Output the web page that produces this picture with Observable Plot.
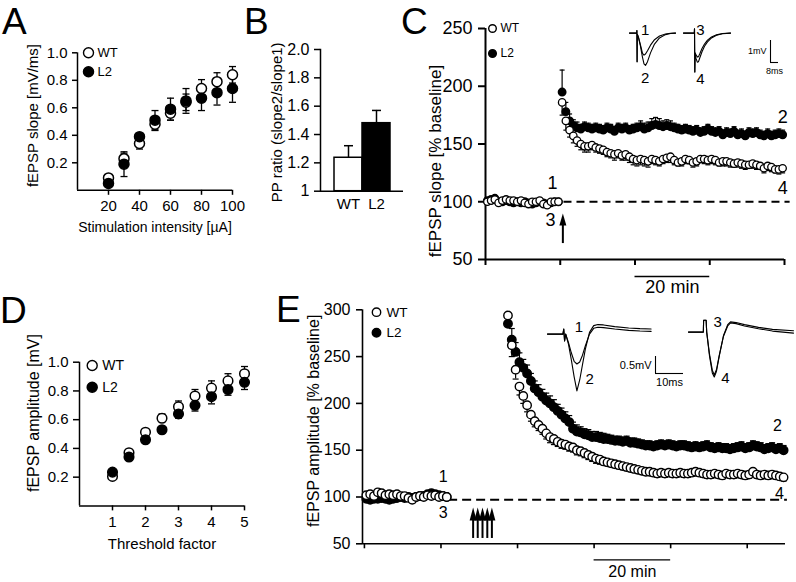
<!DOCTYPE html>
<html>
<head>
<meta charset="utf-8">
<script src="https://cdn.jsdelivr.net/npm/d3@7"></script>
<script src="https://cdn.jsdelivr.net/npm/@observablehq/plot@0.6"></script>
<style>
html, body { margin: 0; padding: 0; background: #fff; }
#fig { position: relative; width: 796px; height: 582px; overflow: hidden; background: #fff; font-family: "Liberation Sans", Arial, sans-serif; }
.letter { position: absolute; font-size: 37px; line-height: 37px; color: #000; }
</style>
</head>
<body>
<div id="fig"></div>
<script>
// ---------------- Panel A: input/output ----------------
const intensity = [20, 30, 40, 50, 60, 70, 80, 90, 100];
const A_WT      = [0.09, 0.23, 0.34, 0.48, 0.56, 0.64, 0.74, 0.79, 0.84];
const A_WT_err  = [0.02, 0.04, 0.04, 0.045, 0.05, 0.06, 0.065, 0.065, 0.06];
const A_L2      = [0.05, 0.19, 0.39, 0.51, 0.59, 0.65, 0.67, 0.71, 0.74];
const A_L2_err  = [0.02, 0.09, 0.02, 0.07, 0.08, 0.09, 0.09, 0.09, 0.10];
const A_ticksX  = [20, 40, 60, 80, 100];
const A_ticksY  = [0.2, 0.4, 0.6, 0.8, 1.0];

// ---------------- Panel B: paired-pulse ratio ----------------
const ppGroups = ["WT", "L2"];
const ppRatio  = [1.236, 1.48];
const ppErr    = [0.085, 0.09];
const B_ticksY = [1, 1.2, 1.4, 1.6, 1.8, 2.0];

// ---------------- Panel C: LTP (slope) ----------------
const tC_base = [-19.5,-18.5,-17.5,-16.5,-15.5,-14.5,-13.5,-12.5,-11.5,-10.5,-9.5,-8.5,-7.5,-6.5,-5.5,-4.5,-3.5,-2.5,-1.5,-0.5];
const C_WT_base     = [100,101,102,99,101,102,101,101,100,101,99,98,100,100,101,98,97,100,100,100];
const C_WT_base_err = [2,1,2,1,1,2,1,1,2,1,1,2,1,1,1,2,1,1,1,1];
const C_L2_base     = [101,102,103,100,100,101,100,99,100,99,100,99,98,99,100,99,98,99,100,100];
const C_L2_base_err = [1,2,1,1,2,1,1,2,1,1,1,1,2,1,1,1,1,2,1,1];
const tC_post = [0.5,1.5,2.5,3.5,4.5,5.5,6.5,7.5,8.5,9.5,10.5,11.5,12.5,13.5,14.5,15.5,16.5,17.5,18.5,19.5,20.5,21.5,22.5,23.5,24.5,25.5,26.5,27.5,28.5,29.5,30.5,31.5,32.5,33.5,34.5,35.5,36.5,37.5,38.5,39.5,40.5,41.5,42.5,43.5,44.5,45.5,46.5,47.5,48.5,49.5,50.5,51.5,52.5,53.5,54.5,55.5,56.5,57.5,58.5,59.5];
const C_WT_post = [186,170,162,157,153,150,148,148,149,147,
                   146,145,143,142,141,142,140,141,139,137,
                   136,137,136,135,137,136,135,137,138,139,
                   136,134,135,137,136,134,135,137,137,136,
                   137,136,134,135,135,134,133,134,133,132,
                   132,133,132,131,129,131,130,128,128,129];
const C_WT_post_err = [11,8,6,6,5,5,5,5,4,4,
                       4,4,4,4,5,4,4,5,5,5,
                       5,5,5,5,4,4,4,4,4,5,
                       4,3,4,4,3,4,4,3,4,4,
                       4,4,3,4,4,4,3,4,4,4,
                       3,4,4,3,4,4,4,3,4,4];
const C_L2_post = [195,178,170,166,164,163,165,164,163,164,
                   163,162,164,163,161,164,163,164,162,163,
                   164,165,163,164,166,167,166,165,166,165,
                   164,163,162,163,162,161,162,160,161,163,
                   161,160,161,158,160,159,161,158,159,157,
                   160,159,160,158,157,159,157,158,159,158];
const C_L2_post_err = [19,8,6,5,5,4,4,4,4,4,
                       4,4,4,4,4,4,4,4,4,4,
                       4,5,5,5,6,6,6,5,5,5,
                       4,4,4,4,4,4,4,4,4,4,
                       4,4,4,4,4,4,4,4,4,4,
                       4,4,4,4,4,4,4,4,4,4];
const C_ticksX = [-20, 0, 20, 40, 60];
const C_ticksY = [50, 100, 150, 200, 250];
const C_tetanus = [0.7];
const C_scaleBar = [20, 40];
const C_marks = ["1", "3", "2", "4"];
const C_markT = [-2.1, -2.6, 59.5, 59.5];
const C_markV = [116, 84, 173, 111.5];

// ---------------- Panel D: amplitude vs threshold ----------------
const threshold = [1, 1.5, 2, 2.5, 3, 3.5, 4, 4.5, 5];
const D_WT     = [0.205, 0.37, 0.513, 0.61, 0.69, 0.765, 0.82, 0.87, 0.92];
const D_WT_err = [0.015, 0.02, 0.025, 0.03, 0.04, 0.045, 0.05, 0.05, 0.05];
const D_L2     = [0.235, 0.34, 0.46, 0.53, 0.64, 0.70, 0.76, 0.81, 0.86];
const D_L2_err = [0.015, 0.02, 0.02, 0.02, 0.03, 0.04, 0.05, 0.04, 0.05];
const D_ticksX = [1, 2, 3, 4, 5];
const D_ticksY = [0.2, 0.4, 0.6, 0.8, 1.0];

// ---------------- Panel E: LTP (amplitude) ----------------
const tE_base = [0.5,1.5,2.5,3.5,4.5,5.5,6.5,7.5,8.5,9.5,10.5,11.5,12.5,13.5,14.5,15.5,16.5,17.5,18.5,19.5,20.5,21.5];
const E_WT_base = [102,103,101,105,104,102,103,102,103,101,101,99,97,100,101,100,102,101,102,100,101,100];
const E_L2_base = [98,97,98,98,99,98,97,98,99,100,99,100,99,100,101,101,103,104,103,102,101,100];
const E_base_err = [2,2,3,2,2,2,3,2,2,2,2,2,3,2,2,2,2,2,2,2,2,2];
const tE_post = [37.5,38.5,39.5,40.5,41.5,42.5,43.5,44.5,45.5,46.5,47.5,48.5,49.5,50.5,51.5,52.5,53.5,54.5,55.5,56.5,57.5,58.5,59.5,60.5,61.5,62.5,63.5,64.5,65.5,66.5,67.5,68.5,69.5,70.5,71.5,72.5,73.5,74.5,75.5,76.5,77.5,78.5,79.5,80.5,81.5,82.5,83.5,84.5,85.5,86.5,87.5,88.5,89.5,90.5,91.5,92.5,93.5,94.5,95.5,96.5,97.5,98.5,99.5,100.5,101.5,102.5,103.5,104.5,105.5,106.5,107.5,108.5,109.5];
const E_WT_post = [294,262,236,218,208,198,188,181,177,173,
                   168,164,162,159,157,156,154,153,150,149,
                   147,145,143,141,140,138,137,136,135,134,
                   133,132,131,130,129,128,127,127,126,125,
                   126,125,126,125,125,126,125,125,126,127,
                   126,125,124,124,125,124,123,125,124,124,
                   125,124,123,124,127,124,123,124,123,124,
                   123,122,121];
const E_WT_post_err = [10,12,10,9,8,7,7,6,6,6,
                       6,6,6,5,5,5,5,5,5,5,
                       5,5,5,5,5,4,4,4,4,4,
                       4,4,4,4,4,4,4,4,4,4,
                       4,4,4,4,4,4,4,4,4,4,
                       4,4,4,4,4,4,4,4,4,4,
                       4,4,4,4,4,4,4,4,4,4,
                       4,4,4];
const E_L2_post = [285,268,255,244,238,232,224,216,212,207,
                   203,200,196,192,188,184,180,173,170,169,
                   167,166,164,164,163,162,162,161,160,160,
                   159,160,158,158,157,156,155,155,154,155,
                   156,155,156,155,154,155,155,154,153,154,
                   153,154,155,153,152,153,152,152,151,152,
                   153,154,152,153,155,154,153,151,152,153,
                   151,152,150];
const E_L2_post_err = [10,12,10,10,9,9,8,8,8,8,
                       8,8,8,7,7,7,7,7,7,6,
                       6,6,6,6,6,6,5,5,5,5,
                       5,5,5,5,5,5,5,5,5,5,
                       5,5,5,5,5,5,5,5,5,5,
                       5,5,5,5,5,5,5,5,5,5,
                       5,5,5,5,5,5,5,5,5,5,
                       5,5,5];
const E_ticksX = [0, 20, 40, 60, 80, 100];
const E_ticksY = [50, 100, 150, 200, 250, 300];
const E_tetanus = [28.4, 29.6, 30.85, 32.1, 33.3];
const E_scaleBar = [60, 80];
const E_marks = ["1", "3", "2", "4"];
const E_markT = [20.6, 20.6, 107.9, 108.4];
const E_markV = [121, 82.7, 176.4, 103.7];

// ---------------- Inset traces (ms, mV) ----------------
const trC12_t = [0, 7.2, 7.4, 7.6, 7.8, 9, 11, 13, 14.5, 16, 18, 21, 25, 30, 36, 41, 46];
const trC1_v  = [0, 0, 0.12, -1.3, -0.05, -0.2, -0.55, -0.92, -1.0, -0.95, -0.8, -0.55, -0.3, -0.13, -0.04, -0.01, 0];
const trC2_v  = [0, 0, 0.12, -1.3, -0.05, -0.2, -0.6, -1.1, -1.4, -1.47, -1.3, -0.9, -0.5, -0.22, -0.07, -0.02, 0];
const trC34_t = [0, 10.8, 11, 11.3, 11.6, 12.5, 13.8, 15, 16.5, 18.5, 21, 24, 28, 33, 39, 47];
const trC3_v  = [0, 0, 0.2, -1.77, -0.9, -0.98, -1.09, -1.07, -0.92, -0.7, -0.5, -0.32, -0.18, -0.08, -0.02, 0];
const trC4_v  = [0, 0, 0.2, -1.77, -0.9, -1.15, -1.32, -1.3, -1.1, -0.85, -0.6, -0.4, -0.22, -0.1, -0.03, 0];
const trE12_t = [0, 5.5, 5.8, 6.1, 6.5, 7.5, 8.5, 9.5, 10.5, 11.5, 12.5, 13.5, 15, 16.5, 18, 20, 24, 29, 33, 37];
const trE1_v  = [0, 0, 0.15, -0.2, 0, -0.25, -0.55, -0.8, -0.88, -0.82, -0.62, -0.35, 0.0, 0.17, 0.2, 0.19, 0.15, 0.11, 0.09, 0.08];
const trE2_v  = [0, 0, 0.15, -0.2, 0, -0.3, -0.75, -1.25, -1.67, -1.35, -0.9, -0.45, 0.05, 0.25, 0.28, 0.27, 0.22, 0.18, 0.16, 0.15];
const trE34_t = [0, 5.3, 5.4, 6.3, 6.5, 7.5, 8.5, 9.2, 10, 11, 12.5, 14, 15, 17, 20, 25, 30, 37.5];
const trE3_v  = [0, 0, 0.35, 0.35, 0, -0.65, -1.12, -1.26, -1.1, -0.68, -0.12, 0.18, 0.27, 0.25, 0.18, 0.1, 0.03, -0.03];
const trE4_v  = [0, 0, 0.35, 0.35, 0, -0.7, -1.2, -1.32, -1.15, -0.7, -0.1, 0.22, 0.3, 0.28, 0.22, 0.14, 0.08, 0.04];
const scaleC = {mV: 1, ms: 8};
const scaleE = {mV: 0.5, ms: 10};

// ================= drawing =================
const FONT = '"Liberation Sans", Arial, Helvetica, sans-serif';
const fig = document.getElementById("fig");
const baseStyle = {fontFamily: FONT, fontSize: "15px", background: "transparent", overflow: "visible", maxWidth: "none", color: "black"};
function put(node, left, top) {
  node.style.position = "absolute";
  node.style.left = left + "px";
  node.style.top = top + "px";
  fig.appendChild(node);
}
function rows(ts, vs, es) { return ts.map((t, i) => ({t, v: vs[i], e: es ? es[i] : 0})); }
const capSym = {draw(ctx, size) { const w = Math.sqrt(size / Math.PI); ctx.moveTo(-w, 0); ctx.lineTo(w, 0); }};
function headSym(h, w) { return {draw(ctx) { ctx.moveTo(0, -h); ctx.lineTo(w / 2, 0); ctx.lineTo(-w / 2, 0); ctx.closePath(); }}; }
function errMarks(data, dir, sw, capR) {
  const tip = d => d.v + dir * d.e;
  return [
    Plot.ruleX(data, {x: "t", y1: "v", y2: tip, stroke: "black", strokeWidth: sw}),
    Plot.dot(data, {x: "t", y: tip, symbol: capSym, r: capR, stroke: "black", fill: "none", strokeWidth: sw})
  ];
}
function yLabel(text, dx, dy, fs) {
  return Plot.text([text], {frameAnchor: "left", rotate: -90, dx, dy, fontSize: fs, text: d => d, fill: "black", textAnchor: "middle", lineAnchor: "middle"});
}
function xLabel(text, dy, fs) {
  return Plot.text([text], {frameAnchor: "bottom", dy, text: d => d, fontSize: fs, textAnchor: "middle", lineAnchor: "middle"});
}
function legend(dx, dy1, dy2, r, fs, gap) {
  return [
    Plot.dot([0], {frameAnchor: "top-left", dx, dy: dy1, r, fill: "white", stroke: "black", strokeWidth: 1.4}),
    Plot.dot([0], {frameAnchor: "top-left", dx, dy: dy2, r, fill: "black", stroke: "black"}),
    Plot.text(["WT"], {frameAnchor: "top-left", dx: dx + gap, dy: dy1, text: d => d, textAnchor: "start", lineAnchor: "middle", fontSize: fs}),
    Plot.text(["L2"], {frameAnchor: "top-left", dx: dx + gap, dy: dy2, text: d => d, textAnchor: "start", lineAnchor: "middle", fontSize: fs})
  ];
}

// ----- A -----
{
  const wt = rows(intensity, A_WT, A_WT_err), l2 = rows(intensity, A_L2, A_L2_err);
  const p = Plot.plot({
    width: 250, height: 240, marginLeft: 77, marginRight: 18, marginTop: 52.3, marginBottom: 50.2,
    style: baseStyle,
    x: {domain: [0, 100]}, y: {domain: [0, 1]},
    marks: [
      Plot.ruleX([0], {strokeWidth: 1.5}), Plot.ruleY([0], {strokeWidth: 1.5}),
      Plot.axisY({ticks: A_ticksY, tickFormat: ".1f", tickSize: 5, tickPadding: 5, label: null, fontSize: 15, strokeWidth: 1.5}),
      Plot.axisX({ticks: A_ticksX, tickFormat: d => String(d), tickSize: 5, tickPadding: 5, label: null, fontSize: 15, strokeWidth: 1.5}),
      yLabel("fEPSP slope [mV/ms]", -44, -6, 15),
      xLabel("Stimulation intensity [µA]", 37, 14),
      ...errMarks(wt, 1, 1.3, 3.5), ...errMarks(wt, -1, 1.3, 3.5),
      ...errMarks(l2, 1, 1.3, 3.5), ...errMarks(l2, -1, 1.3, 3.5),
      Plot.dot(wt, {x: "t", y: "v", r: 5, fill: "white", stroke: "black", strokeWidth: 1.5}),
      Plot.dot(l2, {x: "t", y: "v", r: 5, fill: "black", stroke: "black"}),
      ...legend(11, 0, 19, 5, 13, 9)
    ]
  });
  put(p, 0, 0);
}

// ----- B -----
{
  const b = ppGroups.map((g, i) => ({g, v: ppRatio[i], e: ppErr[i]}));
  const p = Plot.plot({
    width: 180, height: 240, marginLeft: 90, marginRight: 7, marginTop: 49, marginBottom: 49.3,
    style: baseStyle,
    x: {type: "band", domain: ppGroups, paddingInner: 0, paddingOuter: 0.46},
    y: {domain: [1, 2]},
    marks: [
      Plot.ruleX(b, {x: "g", y1: "v", y2: d => d.v + d.e, strokeWidth: 1.5}),
      Plot.dot(b, {x: "g", y: d => d.v + d.e, symbol: capSym, r: 4.5, stroke: "black", fill: "none", strokeWidth: 1.5}),
      Plot.barY(b.filter(d => d.g === "WT"), {x: "g", y1: 1, y2: "v", fill: "white", stroke: "black", strokeWidth: 1.5}),
      Plot.barY(b.filter(d => d.g === "L2"), {x: "g", y1: 1, y2: "v", fill: "black", stroke: "black", strokeWidth: 1.5}),
      Plot.ruleY([1], {strokeWidth: 1.5}),
      Plot.frame({anchor: "left", strokeWidth: 1.5}),
      Plot.axisY({ticks: B_ticksY, tickFormat: d => d === 1 ? "1" : d3.format(".1f")(d), tickSize: 6, tickPadding: 5, label: null, fontSize: 16, strokeWidth: 1.5}),
      Plot.axisX({tickSize: 0, tickPadding: 7, label: null, fontSize: 15}),
      yLabel("PP ratio (slope2/slope1)", -43, 2, 15)
    ]
  });
  put(p, 230, 0);
}

// ----- C -----
{
  const wt = rows([...tC_base, ...tC_post], [...C_WT_base, ...C_WT_post], [...C_WT_base_err, ...C_WT_post_err]);
  const l2 = rows([...tC_base, ...tC_post], [...C_L2_base, ...C_L2_post], [...C_L2_base_err, ...C_L2_post_err]);
  const nums = C_marks.map((s, i) => ({s, t: C_markT[i], v: C_markV[i]}));
  const p = Plot.plot({
    width: 436, height: 300, marginLeft: 125, marginRight: 12, marginTop: 28, marginBottom: 41,
    style: baseStyle,
    x: {domain: [-20, 60]}, y: {domain: [50, 250]},
    marks: [
      Plot.ruleX([-20], {strokeWidth: 2}), Plot.ruleY([50], {strokeWidth: 2}),
      Plot.axisY({ticks: C_ticksY, tickSize: 7, tickPadding: 6, label: null, fontSize: 18, strokeWidth: 2}),
      Plot.axisX({ticks: C_ticksX, tickFormat: () => "", tickSize: 6, label: null, strokeWidth: 2}),
      yLabel("fEPSP slope [% baseline]", -50, 17, 17),
      Plot.ruleY([100], {x1: 1, x2: 61.5, strokeDasharray: "8,5", strokeWidth: 2}),
      Plot.ruleY([50], {x1: C_scaleBar[0], x2: C_scaleBar[1], dy: 17, strokeWidth: 1.3}),
      Plot.text(["20 min"], {x: (C_scaleBar[0] + C_scaleBar[1]) / 2, y: 50, dy: 28, text: d => d, fontSize: 18}),
      ...errMarks(l2, 1, 1.2, 2.5),
      Plot.dot(l2, {x: "t", y: "v", r: 3.7, fill: "black", stroke: "black"}),
      ...errMarks(wt, -1, 1.2, 2.5),
      Plot.dot(wt, {x: "t", y: "v", r: 3.7, fill: "white", stroke: "black", strokeWidth: 1.3}),
      Plot.ruleX(C_tetanus, {x: d => d, y1: 63.8, y2: 80, strokeWidth: 2}),
      Plot.dot(C_tetanus, {x: d => d, y: 79.5, symbol: headSym(12, 7), r: 4, fill: "black", stroke: "none"}),
      Plot.text(nums, {x: "t", y: "v", text: "s", fontSize: 18}),
      ...legend(7, 0, 25, 3.8, 12, 8)
    ]
  });
  put(p, 360, 0);
}

// ----- D -----
{
  const wt = rows(threshold, D_WT, D_WT_err), l2 = rows(threshold, D_L2, D_L2_err);
  const p = Plot.plot({
    width: 250, height: 270, marginLeft: 79, marginRight: 6, marginTop: 71.7, marginBottom: 54.6,
    style: baseStyle,
    x: {domain: [0, 5]}, y: {domain: [0, 1]},
    marks: [
      Plot.ruleX([0], {strokeWidth: 1.5}), Plot.ruleY([0], {strokeWidth: 1.5}),
      Plot.axisY({ticks: D_ticksY, tickFormat: ".1f", tickSize: 6, tickPadding: 5, label: null, fontSize: 15, strokeWidth: 1.5}),
      Plot.axisX({ticks: D_ticksX, tickFormat: d => String(d), tickSize: 5, tickPadding: 5, label: null, fontSize: 15, strokeWidth: 1.5}),
      yLabel("fEPSP amplitude [mV]", -46, -21, 16),
      xLabel("Threshold factor", 38, 15),
      ...errMarks(wt, 1, 1.3, 3.5), ...errMarks(l2, -1, 1.3, 3.5),
      Plot.dot(wt, {x: "t", y: "v", r: 4.8, fill: "white", stroke: "black", strokeWidth: 1.5}),
      Plot.dot(l2, {x: "t", y: "v", r: 4.8, fill: "black", stroke: "black"}),
      ...legend(12.7, 3.3, 25, 5, 14, 10)
    ]
  });
  put(p, 0, 290);
}

// ----- E -----
{
  const wt = rows([...tE_base, ...tE_post], [...E_WT_base, ...E_WT_post], [...E_base_err, ...E_WT_post_err]);
  const l2 = rows([...tE_base, ...tE_post], [...E_L2_base, ...E_L2_post], [...E_base_err, ...E_L2_post_err]);
  const nums = E_marks.map((s, i) => ({s, t: E_markT[i], v: E_markV[i]}));
  const p = Plot.plot({
    width: 506, height: 292, marginLeft: 72, marginRight: 11, marginTop: 19.3, marginBottom: 38.7,
    style: baseStyle,
    x: {domain: [-0.5, 110]}, y: {domain: [50, 300]},
    marks: [
      Plot.ruleX([-0.5], {strokeWidth: 1.6}), Plot.ruleY([50], {strokeWidth: 1.6}),
      Plot.axisY({ticks: E_ticksY, tickSize: 6, tickPadding: 6, label: null, fontSize: 16, strokeWidth: 1.6}),
      Plot.axisX({ticks: E_ticksX, tickFormat: () => "", tickSize: 5, label: null, strokeWidth: 1.6}),
      yLabel("fEPSP amplitude [% baseline]", -49, -6, 16),
      Plot.ruleY([97], {x1: 22, x2: 110.5, strokeDasharray: "9,5", strokeWidth: 2}),
      Plot.ruleY([50], {x1: E_scaleBar[0], x2: E_scaleBar[1], dy: 16, strokeWidth: 1.3}),
      Plot.text(["20 min"], {x: (E_scaleBar[0] + E_scaleBar[1]) / 2, y: 50, dy: 28, text: d => d, fontSize: 16}),
      ...errMarks(l2, 1, 1.2, 3),
      Plot.dot(l2, {x: "t", y: "v", r: 4.2, fill: "black", stroke: "black"}),
      ...errMarks(wt, -1, 1.2, 3),
      Plot.dot(wt, {x: "t", y: "v", r: 4.2, fill: "white", stroke: "black", strokeWidth: 1.4}),
      Plot.ruleX(E_tetanus, {x: d => d, y1: 55.7, y2: 76, strokeWidth: 2}),
      Plot.dot(E_tetanus, {x: d => d, y: 74.9, symbol: headSym(13, 7), r: 4, fill: "black", stroke: "none"}),
      Plot.text(nums, {x: "t", y: "v", text: "s", fontSize: 16}),
      ...legend(14, 2.4, 23, 4.2, 13.5, 10)
    ]
  });
  put(p, 290, 290);
}

// ----- insets -----
function traceRows(ts, vsList) { return vsList.flatMap((vs, k) => ts.map((t, i) => ({k, t, v: vs[i]}))); }
function inset(data, xMax, yDom, pxPerMs, pxPerMV, labels, fs) {
  return Plot.plot({
    width: xMax * pxPerMs, height: (yDom[1] - yDom[0]) * pxPerMV, margin: 0,
    style: baseStyle,
    x: {domain: [0, xMax], axis: null}, y: {domain: yDom, axis: null},
    marks: [
      Plot.line(data, {x: "t", y: "v", z: "k", stroke: "black", strokeWidth: 1.1}),
      Plot.text(labels, {x: "t", y: "v", text: "s", fontSize: fs})
    ]
  });
}
function scaleBar(sc, pxPerMs, pxPerMV, fs, vLab, hLab, vDx, hDy) {
  return Plot.plot({
    width: sc.ms * pxPerMs, height: sc.mV * pxPerMV, margin: 0,
    style: baseStyle,
    x: {domain: [0, sc.ms], axis: null}, y: {domain: [0, sc.mV], axis: null},
    marks: [
      Plot.ruleX([0], {y1: 0, y2: sc.mV, strokeWidth: 1.1}),
      Plot.ruleY([0], {x1: 0, x2: sc.ms, strokeWidth: 1.1}),
      Plot.text([vLab], {x: 0, y: sc.mV / 2, dx: vDx, text: d => d, textAnchor: "end", fontSize: fs}),
      Plot.text([hLab], {x: sc.ms / 2, y: 0, dy: hDy, text: d => d, fontSize: fs})
    ]
  });
}
put(inset(traceRows(trC12_t, [trC1_v, trC2_v]), 46, [-1.9, 0.3], 1, 22,
  [{s: "1", t: 15.7, v: 0.12}, {s: "2", t: 15.7, v: -2.05}], 15), 629.3, 26.1);
put(inset(traceRows(trC34_t, [trC3_v, trC4_v]), 47, [-1.9, 0.3], 1, 22,
  [{s: "3", t: 17, v: 0.12}, {s: "4", t: 17, v: -2.1}], 15), 683, 26.1);
put(scaleBar(scaleC, 1, 22, 9, "1mV", "8ms", -4, 9), 770, 40);
put(inset(traceRows(trE12_t, [trE1_v, trE2_v]), 37, [-1.8, 0.4], 2.8, 34,
  [{s: "1", t: 11.2, v: 0.19}, {s: "2", t: 15.1, v: -1.34}], 15), 546.7, 319.7);
put(inset(traceRows(trE34_t, [trE3_v, trE4_v]), 37.5, [-1.8, 0.4], 2.8, 34,
  [{s: "3", t: 10.4, v: 0.3}, {s: "4", t: 13.2, v: -1.35}], 15), 688, 318.4);
put(scaleBar(scaleE, 2.8, 34, 11, "0.5mV", "10ms", -4, 9), 655, 356);

// ----- panel letters -----
[["A", 2, 3], ["B", 244, 3], ["C", 401, 3], ["D", 0, 292], ["E", 276, 291]].forEach(([s, x, y]) => {
  const d = document.createElement("div");
  d.className = "letter";
  d.textContent = s;
  d.style.left = x + "px";
  d.style.top = y + "px";
  fig.appendChild(d);
});
</script>
</body>
</html>
